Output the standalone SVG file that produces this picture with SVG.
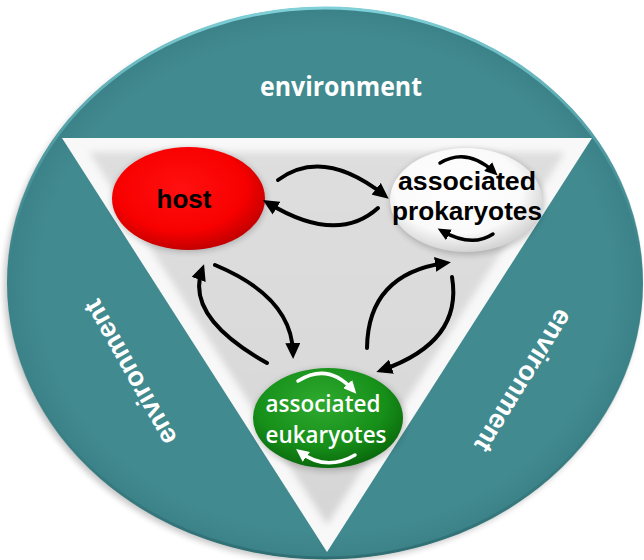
<svg xmlns="http://www.w3.org/2000/svg" width="644" height="560" viewBox="0 0 644 560">
<defs>
<style>
.env{font-family:"Open Sans","Liberation Sans",sans-serif;font-weight:700;fill:#ffffff}
.envb{font-family:"Liberation Sans",Arial,sans-serif;font-weight:bold;fill:#ffffff;font-size:27px}
.lblk{font-family:"Liberation Sans",Arial,sans-serif;font-weight:bold;fill:#000000;font-size:26px}
.lwht{font-family:"Open Sans","Liberation Sans",sans-serif;font-weight:600;fill:#ffffff;font-size:24px}
.arr{fill:none;stroke:#000000;stroke-width:4;stroke-linecap:round}
.arrs{fill:none;stroke:#000000;stroke-width:3.5;stroke-linecap:round}
.arrw{fill:none;stroke:#ffffff;stroke-width:3.5;stroke-linecap:round}
</style>
<marker id="hb" markerUnits="userSpaceOnUse" markerWidth="17" markerHeight="15" refX="10" refY="7.5" orient="auto"><path d="M0,0 L16,7.5 L0,15 z" fill="#000000"/></marker>
<marker id="hs" markerUnits="userSpaceOnUse" markerWidth="14" markerHeight="12" refX="8" refY="6" orient="auto"><path d="M0,0 L13,6 L0,12 z" fill="#000000"/></marker>
<marker id="hw" markerUnits="userSpaceOnUse" markerWidth="14" markerHeight="12" refX="8" refY="6" orient="auto"><path d="M0,0 L13,6 L0,12 z" fill="#ffffff"/></marker>
<radialGradient id="gTeal" cx="0.5" cy="0.5" r="0.5">
<stop offset="0.9" stop-color="#418a8f"/>
<stop offset="1" stop-color="#3b8288"/>
</radialGradient>
<linearGradient id="gRim" x1="0" y1="0" x2="0" y2="1">
<stop offset="0" stop-color="#7fd0d8"/>
<stop offset="0.25" stop-color="#4f9ca2"/>
<stop offset="0.5" stop-color="#418a8f" stop-opacity="0"/>
<stop offset="1" stop-color="#2f6f74"/>
</linearGradient>
<radialGradient id="gRed" cx="0.45" cy="0.4" r="0.6">
<stop offset="0" stop-color="#ff1010"/>
<stop offset="0.7" stop-color="#f80000"/>
<stop offset="1" stop-color="#c40000"/>
</radialGradient>
<radialGradient id="gWhite" cx="0.45" cy="0.4" r="0.6">
<stop offset="0" stop-color="#ffffff"/>
<stop offset="0.7" stop-color="#fafafa"/>
<stop offset="1" stop-color="#d4d4d4"/>
</radialGradient>
<radialGradient id="gGreen" cx="0.45" cy="0.35" r="0.65">
<stop offset="0" stop-color="#2faa2f"/>
<stop offset="0.65" stop-color="#17901a"/>
<stop offset="1" stop-color="#0a6a0c"/>
</radialGradient>
<linearGradient id="gTri" x1="0" y1="0" x2="0" y2="1">
<stop offset="0" stop-color="#dedede"/>
<stop offset="1" stop-color="#d6d6d6"/>
</linearGradient>
<filter id="fBlur" x="-10%" y="-10%" width="120%" height="120%"><feGaussianBlur stdDeviation="3.5"/></filter>
<filter id="fShadow" x="-10%" y="-10%" width="120%" height="120%"><feGaussianBlur stdDeviation="3"/></filter>
</defs>
<rect width="644" height="560" fill="#ffffff"/>
<g id="background">
<ellipse cx="322" cy="287" rx="318" ry="275" fill="#000000" opacity="0.22" filter="url(#fShadow)"/>
<ellipse cx="325" cy="283" rx="318" ry="276" fill="url(#gTeal)"/>
<ellipse cx="325" cy="283" rx="317" ry="275" fill="none" stroke="url(#gRim)" stroke-width="3"/>
<polygon points="62,138 592,138 327,552" fill="#f8f8f8"/>
<polygon points="89,152 565,152 327,525" fill="url(#gTri)" filter="url(#fBlur)"/>
</g>
<g id="env-top"><text class="env" x="341" y="96" font-size="26" text-anchor="middle" textLength="162" lengthAdjust="spacingAndGlyphs">environment</text></g>
<g id="env-left"><text class="envb" transform="translate(138,368) rotate(-119.4)" text-anchor="middle">environment</text></g>
<g id="env-right"><text class="envb" transform="translate(516,376) rotate(121.7)" text-anchor="middle">environment</text></g>
<g id="host">
<ellipse cx="189" cy="200" rx="77" ry="52" fill="#000000" opacity="0.2" filter="url(#fShadow)"/>
<ellipse cx="188.5" cy="198.5" rx="76.5" ry="51.5" fill="url(#gRed)"/>
<text class="lblk" x="184" y="208" text-anchor="middle">host</text>
</g>
<g id="prokaryotes">
<ellipse cx="467" cy="202" rx="77" ry="53" fill="#000000" opacity="0.2" filter="url(#fShadow)"/>
<ellipse cx="466" cy="200" rx="76" ry="52" fill="url(#gWhite)"/>
<text class="lblk" x="467" y="190" text-anchor="middle" textLength="138" lengthAdjust="spacingAndGlyphs">associated</text>
<text class="lblk" x="467" y="220" text-anchor="middle" textLength="150" lengthAdjust="spacingAndGlyphs">prokaryotes</text>
</g>
<g id="eukaryotes">
<ellipse cx="329" cy="420" rx="76" ry="51" fill="#000000" opacity="0.2" filter="url(#fShadow)"/>
<ellipse cx="328" cy="418" rx="75" ry="50" fill="url(#gGreen)"/>
<text class="lwht" x="323" y="412" text-anchor="middle" textLength="115" lengthAdjust="spacingAndGlyphs">associated</text>
<text class="lwht" x="326" y="443" text-anchor="middle" textLength="121" lengthAdjust="spacingAndGlyphs">eukaryotes</text>
</g>
<g id="connectors">
<path class="arr" d="M278,180 Q323,147 384,195" marker-end="url(#hb)"/>
<path class="arr" d="M378,208 Q337,245 268,203" marker-end="url(#hb)"/>
<path class="arr" d="M215,265 Q292,297 293,353" marker-end="url(#hb)"/>
<path class="arr" d="M267,363 Q185,317 202,270" marker-end="url(#hb)"/>
<path class="arr" d="M367,348 Q368,274 445,263" marker-end="url(#hb)"/>
<path class="arr" d="M452,277 Q463,342 382,370" marker-end="url(#hb)"/>
<path class="arrs" d="M440,163 Q467,147 494,172" marker-end="url(#hs)"/>
<path class="arrs" d="M493,234 Q472,248 442,231" marker-end="url(#hs)"/>
<path class="arrw" d="M298,381 Q328,362 353,390" marker-end="url(#hw)"/>
<path class="arrw" d="M355,455 Q326,472 300,452" marker-end="url(#hw)"/>
</g>
</svg>
